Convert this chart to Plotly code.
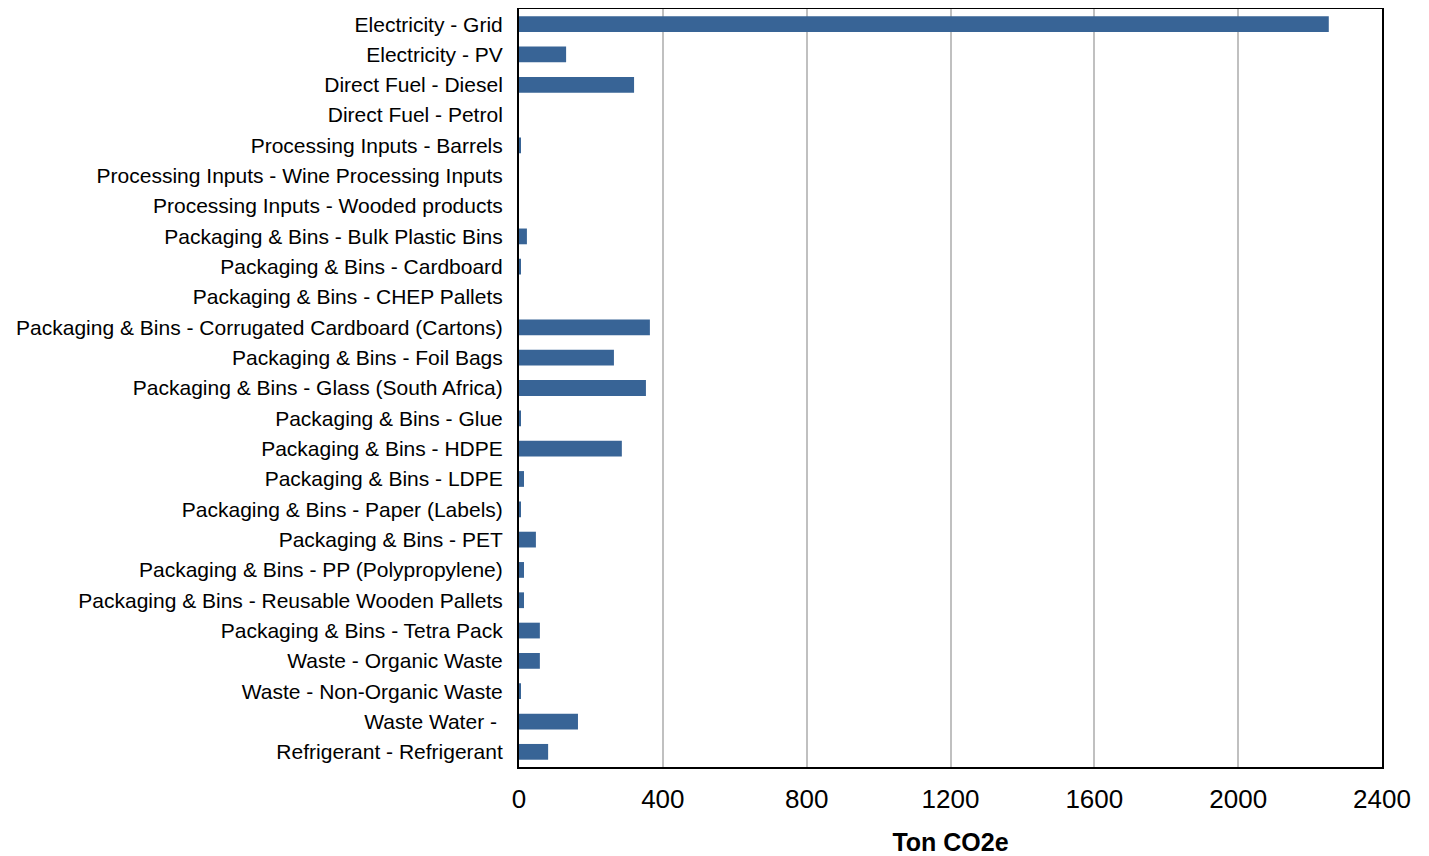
import plotly.graph_objects as go

categories = [
    "Electricity - Grid",
    "Electricity - PV",
    "Direct Fuel - Diesel",
    "Direct Fuel - Petrol",
    "Processing Inputs - Barrels",
    "Processing Inputs - Wine Processing Inputs",
    "Processing Inputs - Wooded products",
    "Packaging & Bins - Bulk Plastic Bins",
    "Packaging & Bins - Cardboard",
    "Packaging & Bins - CHEP Pallets",
    "Packaging & Bins - Corrugated Cardboard (Cartons)",
    "Packaging & Bins - Foil Bags",
    "Packaging & Bins - Glass (South Africa)",
    "Packaging & Bins - Glue",
    "Packaging & Bins - HDPE",
    "Packaging & Bins - LDPE",
    "Packaging & Bins - Paper (Labels)",
    "Packaging & Bins - PET",
    "Packaging & Bins - PP (Polypropylene)",
    "Packaging & Bins - Reusable Wooden Pallets",
    "Packaging & Bins - Tetra Pack",
    "Waste - Organic Waste",
    "Waste - Non-Organic Waste",
    "Waste Water - ",
    "Refrigerant - Refrigerant",
]
values = [2252, 131, 320, 0, 5, 0, 0, 22, 5, 0, 364, 264, 353, 5, 286,
          14, 5, 47, 14, 14, 58, 58, 5, 164, 81]

tick_vals = [0, 400, 800, 1200, 1600, 2000, 2400]

fig = go.Figure(go.Bar(
    x=values, y=categories, orientation="h",
    marker=dict(color="#386496", line=dict(width=0)),
    width=0.52,
))

fig.update_layout(
    width=1429, height=856,
    margin=dict(l=511, r=55, t=1, b=97, autoexpand=False),
    paper_bgcolor="white", plot_bgcolor="white",
    font=dict(family="Liberation Sans, Arial, sans-serif", color="black"),
    showlegend=False,
)
fig.update_xaxes(
    range=[0, 2400], tickvals=tick_vals, ticktext=[str(v) for v in tick_vals],
    showgrid=True, gridcolor="#c0c0c0", gridwidth=2,
    showline=True, linecolor="black", linewidth=2, mirror=True,
    ticks="", tickfont=dict(size=26), ticklabelstandoff=8,
    zeroline=False, automargin=False,
    title=dict(text="<b>Ton CO2e</b>", font=dict(size=25), standoff=20),
)
fig.update_yaxes(
    autorange="reversed",
    showline=True, linecolor="black", linewidth=2, mirror=True,
    ticks="", tickfont=dict(size=21), ticklabelstandoff=10,
    showgrid=False, automargin=False,
)

fig.write_html("out.html")
